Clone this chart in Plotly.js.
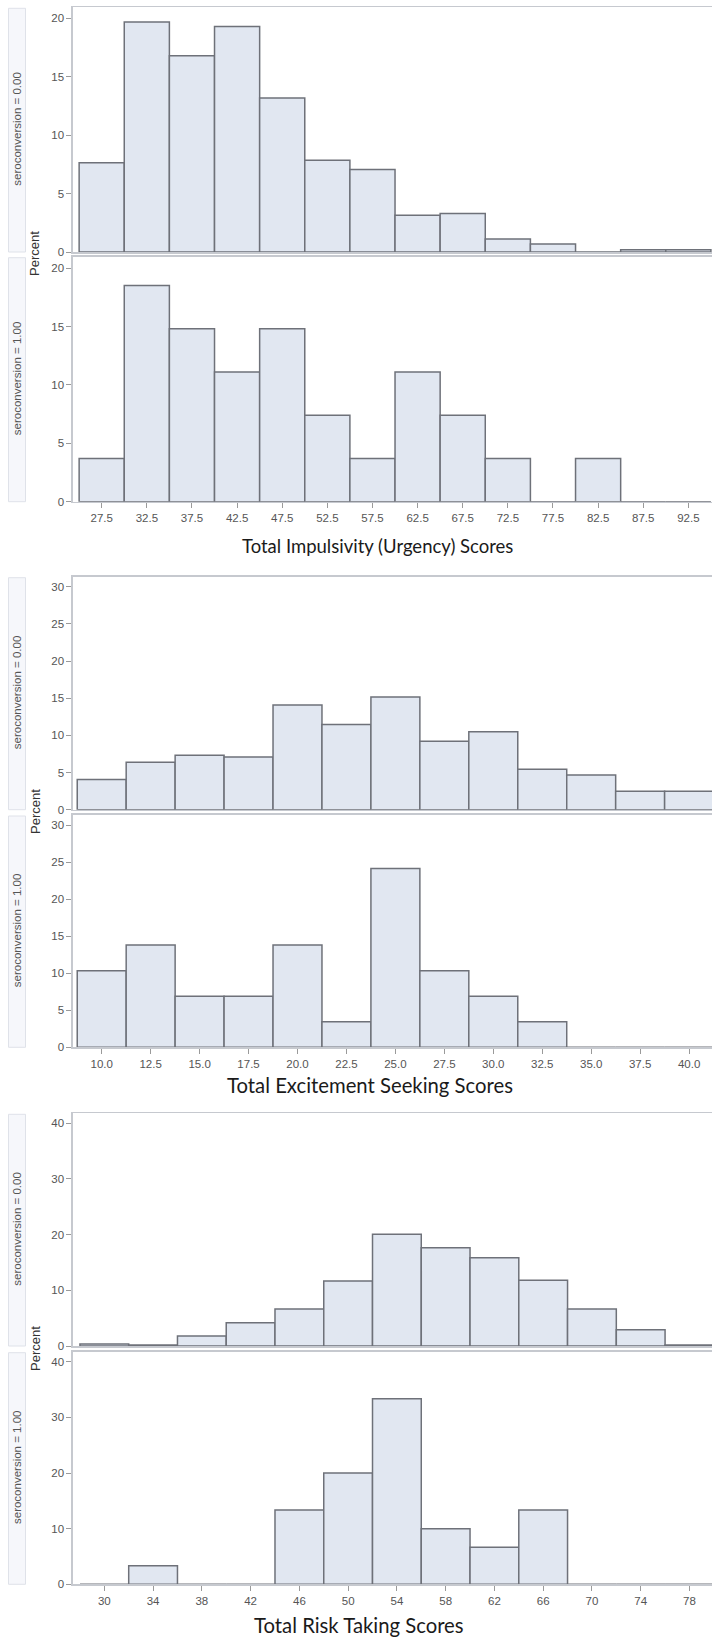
<!DOCTYPE html>
<html>
<head>
<meta charset="utf-8">
<script src="https://cdn.plot.ly/plotly-3.0.1.min.js"></script>
<style>
html,body{margin:0;padding:0;background:#ffffff;}
#chart{width:712px;height:1639px;}
</style>
</head>
<body>
<div id="chart"></div>
<script>
// ---------- data (percent of group per bin) ----------
const impBins   = [27.5, 32.5, 37.5, 42.5, 47.5, 52.5, 57.5, 62.5, 67.5, 72.5, 77.5, 82.5, 87.5, 92.5];
const impTicks  = ["27.5","32.5","37.5","42.5","47.5","52.5","57.5","62.5","67.5","72.5","77.5","82.5","87.5","92.5"];
const impSero0  = [7.63, 19.69, 16.8, 19.29, 13.17, 7.86, 7.06, 3.14, 3.29, 1.11, 0.69, 0, 0.2, 0.2];
const impSero1  = [3.7, 18.52, 14.81, 11.11, 14.81, 7.41, 3.7, 11.11, 7.41, 3.7, 0, 3.7, 0, 0];

const excBins   = [10, 12.5, 15, 17.5, 20, 22.5, 25, 27.5, 30, 32.5, 35, 37.5, 40];
const excTicks  = ["10.0","12.5","15.0","17.5","20.0","22.5","25.0","27.5","30.0","32.5","35.0","37.5","40.0"];
const excSero0  = [4.05, 6.38, 7.33, 7.1, 14.09, 11.45, 15.17, 9.2, 10.5, 5.44, 4.68, 2.49, 2.49];
const excSero1  = [10.34, 13.79, 6.9, 6.9, 13.79, 3.45, 24.14, 10.34, 6.9, 3.45, 0, 0, 0];

const riskBins  = [30, 34, 38, 42, 46, 50, 54, 58, 62, 66, 70, 74, 78];
const riskTicks = ["30","34","38","42","46","50","54","58","62","66","70","74","78"];
const riskSero0 = [0.36, 0.18, 1.8, 4.19, 6.65, 11.68, 20.06, 17.66, 15.87, 11.8, 6.65, 2.93, 0.2];
const riskSero1 = [0, 3.33, 0, 0, 13.33, 20, 33.33, 10, 6.67, 13.33, 0, 0, 0];

const stripLabels = ["seroconversion = 0.00", "seroconversion = 1.00"];
const axisTitles  = ["Total Impulsivity (Urgency) Scores", "Total Excitement Seeking Scores", "Total Risk Taking Scores"];
const yLabel = "Percent";

// ---------- layout helpers ----------
const W = 712, H = 1639;
const px = x => x / W;
const py = y => 1 - y / H;

const panels = [
  {bins: impBins,  vals: impSero0,  bw: 5,   top: 7.3,    bottom: 252,    xr: [24.32, 95.12], yr: [0, 20.94], yt: [0,5,10,15,20],    tt: impTicks,  strip: stripLabels[0], showX: false},
  {bins: impBins,  vals: impSero1,  bw: 5,   top: 256.7,  bottom: 501.7,  xr: [24.32, 95.12], yr: [0, 20.99], yt: [0,5,10,15,20],    tt: impTicks,  strip: stripLabels[1], showX: true},
  {bins: excBins,  vals: excSero0,  bw: 2.5, top: 576.7,  bottom: 809.7,  xr: [8.534, 41.17], yr: [0, 31.35], yt: [0,5,10,15,20,25,30], tt: excTicks, strip: stripLabels[0], showX: false},
  {bins: excBins,  vals: excSero1,  bw: 2.5, top: 815,    bottom: 1047.3, xr: [8.534, 41.17], yr: [0, 31.35], yt: [0,5,10,15,20,25,30], tt: excTicks, strip: stripLabels[1], showX: true},
  {bins: riskBins, vals: riskSero0, bw: 4,   top: 1113.3, bottom: 1346,   xr: [27.43, 79.85], yr: [0, 41.8],  yt: [0,10,20,30,40],    tt: riskTicks, strip: stripLabels[0], showX: false},
  {bins: riskBins, vals: riskSero1, bw: 4,   top: 1351.7, bottom: 1584.3, xr: [27.43, 79.85], yr: [0, 41.8],  yt: [0,10,20,30,40],    tt: riskTicks, strip: stripLabels[1], showX: true}
];

const tickFont = {family: "Liberation Sans, Arial, sans-serif", size: 11.5, color: "#555555"};
const frameColor = "#c6c9cf";

const traces = [];
const layout = {
  width: W, height: H,
  margin: {l: 0, r: 0, t: 0, b: 0},
  paper_bgcolor: "#ffffff",
  plot_bgcolor: "#ffffff",
  showlegend: false,
  shapes: [],
  annotations: []
};

panels.forEach((p, i) => {
  const n = i + 1;
  const xa = n === 1 ? "xaxis" : "xaxis" + n;
  const ya = n === 1 ? "yaxis" : "yaxis" + n;
  traces.push({
    type: "bar",
    x: p.bins,
    y: p.vals,
    width: p.bw,
    xaxis: n === 1 ? "x" : "x" + n,
    yaxis: n === 1 ? "y" : "y" + n,
    marker: {color: "#e1e7f1", line: {color: "#6e7179", width: 1.5}},
    hoverinfo: "skip"
  });
  layout[xa] = {
    domain: [px(73), 1],
    anchor: n === 1 ? "y" : "y" + n,
    range: p.xr,
    showline: true, mirror: true, linecolor: frameColor, linewidth: 1.6,
    showgrid: false, zeroline: false,
    ticks: p.showX ? "outside" : "",
    ticklen: 5, tickwidth: 1, tickcolor: "#9a9a9a",
    tickvals: p.bins, ticktext: p.tt,
    showticklabels: p.showX,
    tickfont: tickFont,
    fixedrange: true
  };
  layout[ya] = {
    domain: [py(p.bottom), py(p.top)],
    anchor: n === 1 ? "x" : "x" + n,
    range: p.yr,
    showline: true, mirror: true, linecolor: frameColor, linewidth: 1.6,
    showgrid: false, zeroline: false,
    ticks: "outside", ticklen: 5, tickwidth: 1, tickcolor: "#9a9a9a",
    tickvals: p.yt,
    tickfont: tickFont,
    fixedrange: true
  };
  // strip box on the left
  layout.shapes.push({
    type: "rect", xref: "paper", yref: "paper",
    x0: px(8.5), x1: px(25.5), y0: py(p.bottom), y1: py(p.top + 1),
    fillcolor: "#f6f7fb", line: {color: "#dfe2e9", width: 1}
  });
  layout.annotations.push({
    xref: "paper", yref: "paper",
    x: px(17), y: py((p.top + p.bottom) / 2),
    text: p.strip, textangle: -90, showarrow: false,
    xanchor: "center", yanchor: "middle",
    font: {family: "Liberation Sans, Arial, sans-serif", size: 11.5, color: "#555555"}
  });
});

// "Percent" labels between the two panels of each pair
[254, 812, 1349].forEach(yc => {
  layout.annotations.push({
    xref: "paper", yref: "paper", x: px(35), y: py(yc),
    text: yLabel, textangle: -90, showarrow: false,
    xanchor: "center", yanchor: "middle",
    font: {family: "Liberation Sans, Arial, sans-serif", size: 13, color: "#333333"}
  });
});

// axis titles
[[377, 546, 18.5], [369.5, 1085, 20.3], [359, 1625, 20.3]].forEach((pos, k) => {
  layout.annotations.push({
    xref: "paper", yref: "paper", x: px(pos[0]), y: py(pos[1]),
    text: axisTitles[k], showarrow: false,
    xanchor: "center", yanchor: "middle",
    font: {family: "Lato, Carlito, Calibri, sans-serif", size: pos[2], color: "#1a1a1a"}
  });
});

Plotly.newPlot("chart", traces, layout, {staticPlot: true, displayModeBar: false});
</script>
</body>
</html>
